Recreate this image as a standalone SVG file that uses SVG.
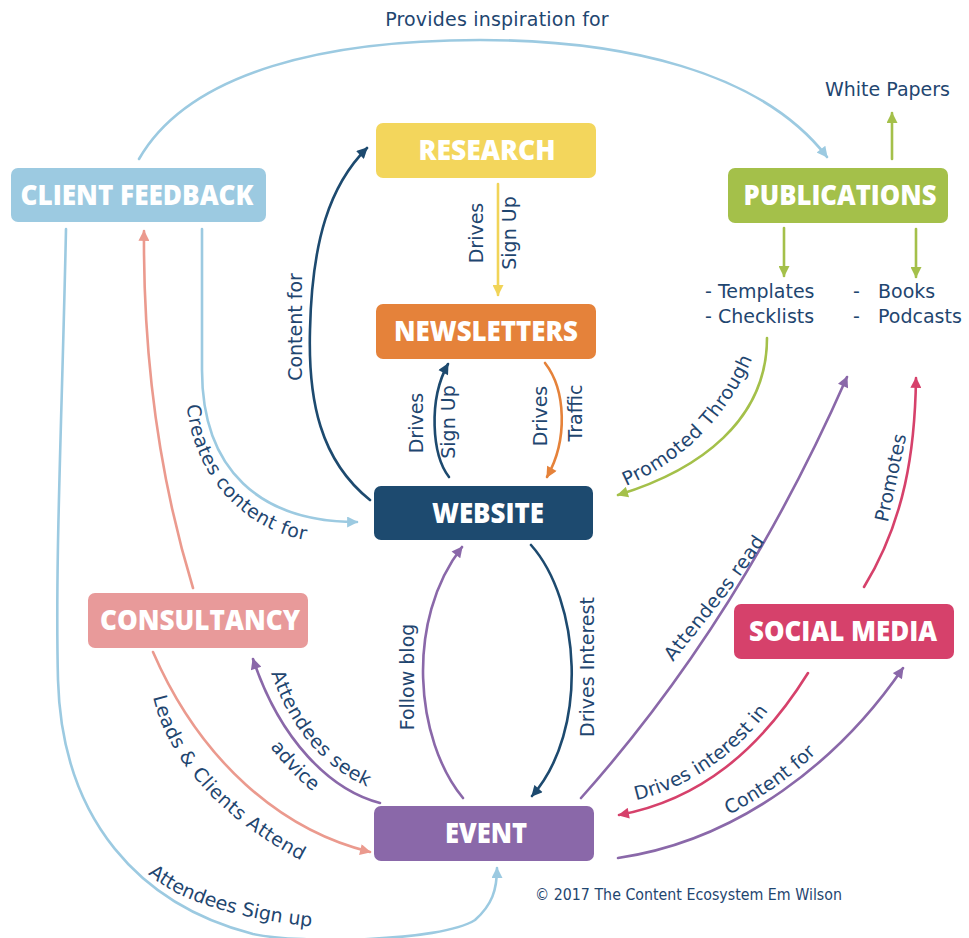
<svg xmlns="http://www.w3.org/2000/svg" width="969" height="938" viewBox="0 0 969 938">
  <style>
    .lbl { font-family: "DejaVu Sans", "Open Sans", sans-serif; font-size: 19px; fill: #1f4670; }
    .curved { letter-spacing: 0.5px; }
    .node-text { font-family: "Open Sans", "Liberation Sans", sans-serif; font-weight: 800; font-size: 28px; fill: #ffffff; text-anchor: middle; }
    .edge { fill: none; stroke-width: 2.6; stroke-linecap: round; }
    .sky { stroke: #9ccae1; }
    .navy { stroke: #1d4a6f; }
    .yellow { stroke: #f1d458; }
    .orange { stroke: #e5823a; }
    .green { stroke: #a4c04a; }
    .purple { stroke: #8a68a9; }
    .salmon { stroke: #eb9a8e; }
    .red { stroke: #d6416b; }
  </style>
  <defs>
    <marker id="ah-sky" viewBox="0 0 10 10" refX="9" refY="5" markerWidth="13" markerHeight="11" markerUnits="userSpaceOnUse" orient="auto"><path d="M0,0 L10,5 L0,10 z" fill="#9ccae1"/></marker>
    <marker id="ah-navy" viewBox="0 0 10 10" refX="9" refY="5" markerWidth="13" markerHeight="11" markerUnits="userSpaceOnUse" orient="auto"><path d="M0,0 L10,5 L0,10 z" fill="#1d4a6f"/></marker>
    <marker id="ah-yellow" viewBox="0 0 10 10" refX="9" refY="5" markerWidth="13" markerHeight="11" markerUnits="userSpaceOnUse" orient="auto"><path d="M0,0 L10,5 L0,10 z" fill="#f1d458"/></marker>
    <marker id="ah-orange" viewBox="0 0 10 10" refX="9" refY="5" markerWidth="13" markerHeight="11" markerUnits="userSpaceOnUse" orient="auto"><path d="M0,0 L10,5 L0,10 z" fill="#e5823a"/></marker>
    <marker id="ah-green" viewBox="0 0 10 10" refX="9" refY="5" markerWidth="13" markerHeight="11" markerUnits="userSpaceOnUse" orient="auto"><path d="M0,0 L10,5 L0,10 z" fill="#a4c04a"/></marker>
    <marker id="ah-purple" viewBox="0 0 10 10" refX="9" refY="5" markerWidth="13" markerHeight="11" markerUnits="userSpaceOnUse" orient="auto"><path d="M0,0 L10,5 L0,10 z" fill="#8a68a9"/></marker>
    <marker id="ah-salmon" viewBox="0 0 10 10" refX="9" refY="5" markerWidth="13" markerHeight="11" markerUnits="userSpaceOnUse" orient="auto"><path d="M0,0 L10,5 L0,10 z" fill="#eb9a8e"/></marker>
    <marker id="ah-red" viewBox="0 0 10 10" refX="9" refY="5" markerWidth="13" markerHeight="11" markerUnits="userSpaceOnUse" orient="auto"><path d="M0,0 L10,5 L0,10 z" fill="#d6416b"/></marker>

    <!-- baselines for curved labels -->
    <path id="tp-creates" d="M187,405 C192,470 240,535 320,542"/>
    <path id="tp-seek" d="M271,673 C285,715 315,765 370,788"/>
    <path id="tp-advice" d="M270,747 C283,763 295,778 314,792"/>
    <path id="tp-leads" d="M153,697 C165,750 210,815 310,865"/>
    <path id="tp-signup" d="M148,874 C180,902 240,920 326,928"/>
    <path id="tp-interest" d="M636,800 C690,788 745,750 778,696"/>
    <path id="tp-content" d="M729,815 C764,796 799,774 830,738"/>
    <path id="tp-read" d="M673,662 C710,615 745,575 782,514"/>
    <path id="tp-promoted" d="M626,486 C680,462 730,420 760,340"/>
  </defs>

  <rect width="969" height="938" fill="#ffffff"/>

  <!-- connectors -->
  <g id="connectors">
    <!-- Client Feedback -> Publications -->
    <path class="edge sky" d="M139,159 C190,70 330,40 480,40 C620,40 760,70 827,157" marker-end="url(#ah-sky)"/>
    <!-- Client Feedback -> Event (around the left side) -->
    <path class="edge sky" d="M66,229 C62,420 55,560 58,680 C62,820 140,905 253,934 C300,944 440,942 475,920 C492,905 497,890 497,868" marker-end="url(#ah-sky)"/>
    <!-- Client Feedback -> Website -->
    <path class="edge sky" d="M202,229 L202,370 C202,470 260,522 357,522" marker-end="url(#ah-sky)"/>
    <!-- Consultancy -> Client Feedback -->
    <path class="edge salmon" d="M193,588 C160,480 143,360 144,231" marker-end="url(#ah-salmon)"/>
    <!-- Website -> Research -->
    <path class="edge navy" d="M370,500 C320,460 308,400 310,330 C312,240 330,185 367,148" marker-end="url(#ah-navy)"/>
    <!-- Research -> Newsletters -->
    <path class="edge yellow" d="M498,184 L498,295" marker-end="url(#ah-yellow)"/>
    <!-- Website -> Newsletters -->
    <path class="edge navy" d="M449,477 C432,455 428,400 448,364" marker-end="url(#ah-navy)"/>
    <!-- Newsletters -> Website -->
    <path class="edge orange" d="M545,363 C566,390 568,440 547,477" marker-end="url(#ah-orange)"/>
    <!-- Website -> Event -->
    <path class="edge navy" d="M531,545 C580,600 590,730 532,796" marker-end="url(#ah-navy)"/>
    <!-- Event -> Website -->
    <path class="edge purple" d="M463,798 C415,740 405,620 462,547" marker-end="url(#ah-purple)"/>
    <!-- Event -> Consultancy -->
    <path class="edge purple" d="M380,803 C330,790 280,740 253,659" marker-end="url(#ah-purple)"/>
    <!-- Consultancy -> Event -->
    <path class="edge salmon" d="M153,652 C200,760 280,830 370,852" marker-end="url(#ah-salmon)"/>
    <!-- Event -> Publications -->
    <path class="edge purple" d="M581,798 Q740,620 847,377" marker-end="url(#ah-purple)"/>
    <!-- Social Media -> Publications -->
    <path class="edge red" d="M864,587 C905,520 915,450 916,378" marker-end="url(#ah-red)"/>
    <!-- Social Media -> Event -->
    <path class="edge red" d="M808,673 C760,750 700,800 619,815" marker-end="url(#ah-red)"/>
    <!-- Event -> Social Media -->
    <path class="edge purple" d="M618,858 C740,840 840,760 903,668" marker-end="url(#ah-purple)"/>
    <!-- Publications -> Website -->
    <path class="edge green" d="M767,338 C767,420 700,470 618,495" marker-end="url(#ah-green)"/>
    <!-- Publications -> outputs -->
    <path class="edge green" d="M892,159 L892,113" marker-end="url(#ah-green)"/>
    <path class="edge green" d="M784,228 L784,276" marker-end="url(#ah-green)"/>
    <path class="edge green" d="M916,229 L916,277" marker-end="url(#ah-green)"/>
  </g>

  <!-- connector labels -->
  <g id="labels">
    <text class="lbl" x="497" y="26" text-anchor="middle" letter-spacing="0.2">Provides inspiration for</text>
    <text class="lbl" transform="translate(302,327) rotate(-90)" text-anchor="middle">Content for</text>
    <text class="lbl" transform="translate(483,233) rotate(-90)" text-anchor="middle">Drives</text>
    <text class="lbl" transform="translate(516,233) rotate(-90)" text-anchor="middle">Sign Up</text>
    <text class="lbl" transform="translate(423,423) rotate(-90)" text-anchor="middle">Drives</text>
    <text class="lbl" transform="translate(455,422) rotate(-90)" text-anchor="middle">Sign Up</text>
    <text class="lbl" transform="translate(547,416) rotate(-90)" text-anchor="middle">Drives</text>
    <text class="lbl" transform="translate(582,413) rotate(-90)" text-anchor="middle">Traffic</text>
    <text class="lbl" transform="translate(414,677) rotate(-90)" text-anchor="middle">Follow blog</text>
    <text class="lbl" transform="translate(594,667) rotate(-90)" text-anchor="middle">Drives Interest</text>
    <text class="lbl" transform="translate(897,479) rotate(-78)" text-anchor="middle">Promotes</text>
    <text class="lbl curved"><textPath href="#tp-creates">Creates content for</textPath></text>
    <text class="lbl curved"><textPath href="#tp-seek">Attendees seek</textPath></text>
    <text class="lbl"><textPath href="#tp-advice">advice</textPath></text>
    <text class="lbl curved"><textPath href="#tp-leads">Leads &amp; Clients Attend</textPath></text>
    <text class="lbl"><textPath href="#tp-signup">Attendees Sign up</textPath></text>
    <text class="lbl"><textPath href="#tp-interest">Drives interest in</textPath></text>
    <text class="lbl"><textPath href="#tp-content">Content for</textPath></text>
    <text class="lbl curved"><textPath href="#tp-read">Attendees read</textPath></text>
    <text class="lbl curved"><textPath href="#tp-promoted">Promoted Through</textPath></text>
  </g>

  <!-- nodes -->
  <g id="client-feedback">
    <rect x="11" y="168" width="255" height="54" rx="7" fill="#9ccae1"/>
    <text class="node-text" x="137" y="205" textLength="233" lengthAdjust="spacingAndGlyphs">CLIENT FEEDBACK</text>
  </g>
  <g id="research">
    <rect x="376" y="123" width="220" height="55" rx="7" fill="#f3d65c"/>
    <text class="node-text" x="487" y="160" textLength="137" lengthAdjust="spacingAndGlyphs">RESEARCH</text>
  </g>
  <g id="newsletters">
    <rect x="376" y="304" width="220" height="55" rx="7" fill="#e5823a"/>
    <text class="node-text" x="486" y="341" textLength="184" lengthAdjust="spacingAndGlyphs">NEWSLETTERS</text>
  </g>
  <g id="website">
    <rect x="374" y="486" width="219" height="54" rx="7" fill="#1d4a6f"/>
    <text class="node-text" x="488" y="523" textLength="112" lengthAdjust="spacingAndGlyphs">WEBSITE</text>
  </g>
  <g id="event">
    <rect x="374" y="806" width="220" height="55" rx="7" fill="#8a68a9"/>
    <text class="node-text" x="486" y="843" textLength="82" lengthAdjust="spacingAndGlyphs">EVENT</text>
  </g>
  <g id="consultancy">
    <rect x="88" y="593" width="220" height="55" rx="7" fill="#e89a9a"/>
    <text class="node-text" x="200" y="630" textLength="200" lengthAdjust="spacingAndGlyphs">CONSULTANCY</text>
  </g>
  <g id="social-media">
    <rect x="734" y="604" width="220" height="55" rx="7" fill="#d6416b"/>
    <text class="node-text" x="843" y="641" textLength="188" lengthAdjust="spacingAndGlyphs">SOCIAL MEDIA</text>
  </g>
  <g id="publications">
    <rect x="728" y="168" width="220" height="55" rx="7" fill="#a4c04a"/>
    <text class="node-text" x="840" y="205" textLength="193" lengthAdjust="spacingAndGlyphs">PUBLICATIONS</text>
  </g>
  <g id="white-papers">
    <text class="lbl" x="825" y="96">White Papers</text>
  </g>
  <g id="templates-checklists">
    <text class="lbl" x="705" y="298">- Templates</text>
    <text class="lbl" x="705" y="323">- Checklists</text>
  </g>
  <g id="books-podcasts">
    <text class="lbl" x="853" y="298">-</text>
    <text class="lbl" x="878" y="298">Books</text>
    <text class="lbl" x="853" y="323">-</text>
    <text class="lbl" x="878" y="323">Podcasts</text>
  </g>

  <text x="535" y="900" font-family="DejaVu Sans, Open Sans, sans-serif" font-size="15" fill="#1f4670" textLength="307" lengthAdjust="spacingAndGlyphs">© 2017 The Content Ecosystem Em Wilson</text>
</svg>
